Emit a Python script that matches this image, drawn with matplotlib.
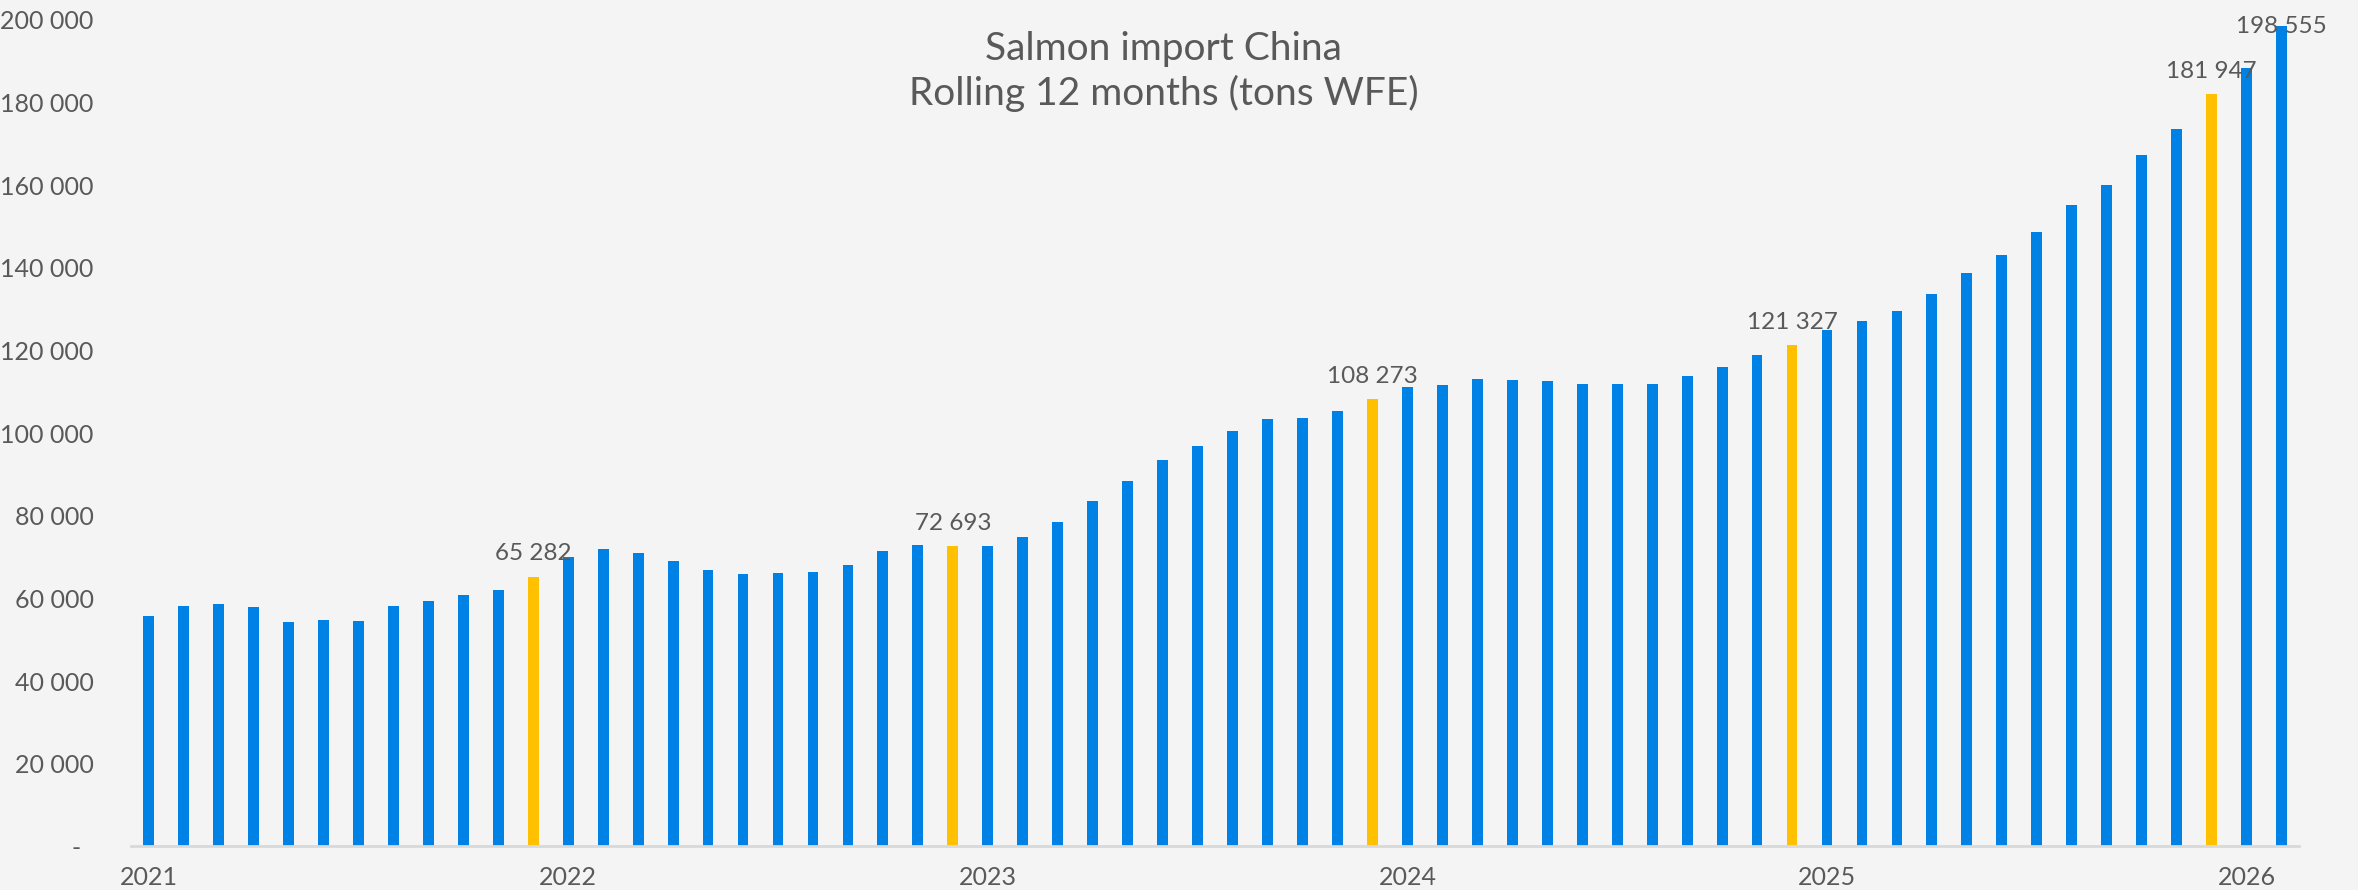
import matplotlib.pyplot as plt
import numpy as np
import pandas as pd

# rolling 12 months salmon import to China (tons WFE), Jan 2021 - Feb 2026
months = pd.date_range("2021-01-01", "2026-02-01", freq="MS")
values = [
    55720, 58060, 58540, 57900, 54350, 54670, 54510, 58220, 59270, 60880, 62090, 65282,
    69990, 71930, 70960, 69020, 66930, 65880, 66120, 66450, 67980, 71440, 72980, 72693,
    72730, 74830, 78540, 83620, 88290, 93460, 96840, 100550, 103370, 103610, 105310, 108273,
    111190, 111680, 112970, 112890, 112560, 111840, 111920, 111920, 113780, 116040, 118780, 121327,
    124820, 127160, 129500, 133610, 138690, 143050, 148690, 155220, 159980, 167150, 173600, 181947,
    188280, 198555,
]
year_labels = ["2021", "2022", "2023", "2024", "2025", "2026"]

BG = "#F4F4F4"
BLUE = "#0081E5"
YELLOW = "#FFC000"
TEXT = "#595959"

plt.rcParams['font.family'] = ['Lato', 'DejaVu Sans']

fig = plt.figure(figsize=(23.58, 8.90), dpi=100, facecolor=BG)
ax = fig.add_axes([0.0556, 0.0489, 0.9194, 0.929])
ax.set_facecolor(BG)

x = np.arange(len(values))
colors = [YELLOW if m.month == 12 else BLUE for m in months]
ax.bar(x, values, width=0.31, color=colors, zorder=2)

# data labels on December bars and the latest month
ymax = 200000
for i, (m, v) in enumerate(zip(months, values)):
    if m.month == 12 or i == len(values) - 1:
        ly = min(v + 3900, ymax - 3200)
        ax.text(i, ly, f"{v:,}".replace(",", " "), ha="center", va="baseline",
                fontsize=17.5, color=TEXT, zorder=3)

ax.set_xlim(-0.5, len(values) - 0.5)
ax.set_ylim(0, ymax)

yticks = np.arange(0, ymax + 1, 20000)
ax.set_yticks(yticks)
ax.set_yticklabels(["-  " if t == 0 else f"{t:,}".replace(",", " ") for t in yticks])

jan_idx = [i for i, m in enumerate(months) if m.month == 1]
ax.set_xticks(jan_idx)
ax.set_xticklabels(year_labels)

ax.tick_params(axis="both", length=0, labelsize=18, labelcolor=TEXT)
ax.tick_params(axis="y", pad=27)
ax.tick_params(axis="x", pad=14)

for side in ["top", "right", "left"]:
    ax.spines[side].set_visible(False)
ax.spines["bottom"].set_color("#D9D9D9")
ax.spines["bottom"].set_linewidth(2)

fig.text(0.4935, 0.9326, "Salmon import China", ha="center", va="baseline",
         fontsize=28, color=TEXT)
fig.text(0.4935, 0.882, "Rolling 12 months (tons WFE)", ha="center", va="baseline",
         fontsize=28, color=TEXT)

fig.savefig("out.png", dpi=100, facecolor=BG)
